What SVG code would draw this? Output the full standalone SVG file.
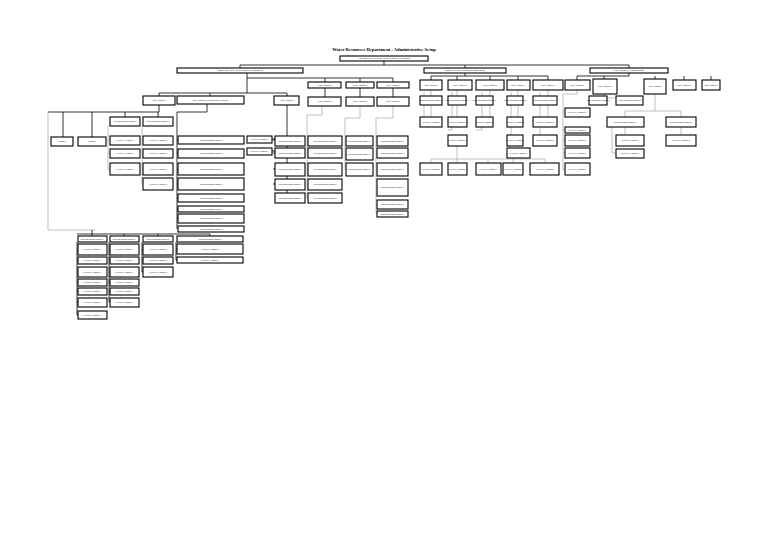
<svg xmlns="http://www.w3.org/2000/svg" width="768" height="543" viewBox="0 0 768 543">
<style>
.b{fill:#fff;stroke:#000;stroke-width:1.1}
.t{font-family:"Liberation Serif",serif;font-size:2.3px;text-anchor:middle;fill:#000}
.c{stroke:#000;stroke-width:0.8;fill:none}
.g{stroke:#999;stroke-width:0.6;fill:none}
</style>
<rect width="768" height="543" fill="#fff"/>
<text x="384" y="51" style="font-family:'Liberation Serif',serif;font-size:4.6px;font-weight:bold;text-anchor:middle">Water Resources Department - Administrative Setup</text>
<g id="connectors">
<path class="c" d="M384 61V65M240 65H629M240 65V68M465 65V68M629 65V68"/>
<path class="c" d="M247 73V93M247 78H393M325 78V82M360 78V82M393 78V82"/>
<path class="c" d="M159 93H287M159 93V96M210 93V96M287 93V96"/>
<path class="c" d="M159 105V112H48M63 112V137M92 112V137M125 112V117M158 112V117"/>
<path class="g" d="M48 112V230H95"/>
<path class="g" d="M108 126V170H110M108 140H110M108 153H110M142 126V184H143M142 140H143M142 153H143M142 169H143"/>
<path class="c" d="M207 104V112H177V229M177 140H178M177 153H178M177 169H178M177 184H178M177 198H178M177 209H178M177 218H178"/>
<path class="c" d="M287 105V198H275M273 140H275M273 153H275M273 169H275M273 184H275M272 139H275M272 151H275"/>
<path class="g" d="M322 106V115H307V198H308M307 141H308M307 153H308M307 169H308M307 184H308"/>
<path class="g" d="M360 106V118H345V170H346M345 141H346M345 154H346"/>
<path class="g" d="M393 106V118H376V213H377M376 141H377M376 153H377M376 169H377M376 187H377M376 205H377"/>
<path class="c" d="M325 88V97M360 88V97M393 88V97"/>
<path class="c" d="M465 73V76H431V80M457 76V80M490 76V80M518 76V80M548 76V80M548 76H465"/>
<path class="c" d="M629 73V76H577V80M604 76V80M655 76V80M684 76V80M711 76V80"/>
<path class="g" d="M431 90V117M424 92V122H420M457 90V96M457 105V117M452 92V130H448M490 90V96M490 105V117M482 92V130H476M518 90V96M518 105V117M511 92V146H507M548 90V96M548 105V117M540 92V146H533"/>
<path class="g" d="M577 90V94H563V170H565M563 112H565M563 130H565M563 140H565M563 153H565"/>
<path class="g" d="M604 94V98H598V96M604 98H630V96"/>
<path class="g" d="M655 90V111H625V117M655 111H681V117M625 127V135M612 122V153H616M681 127V135"/>
<path class="g" d="M457 146V159M431 159H545M431 159V163M457 159V163M488 159V163M513 158V163M545 159V163M518 158V146"/>
<path class="c" d="M77 234H210M92 230V234M92 234V236M124 234V236M158 234V236M210 234V236"/>
<path class="c" d="M77 242V315H78M77 250H78M77 260H78M77 272H78M77 282H78M77 291H78M77 302H78"/>
<path class="c" d="M109 242V302H110M109 250H110M109 260H110M109 272H110M109 282H110M109 291H110"/>
<path class="c" d="M142 242V272H143M142 250H143M142 260H143"/>
<path class="c" d="M176 242V260H177M176 249H177"/>
</g>
<g id="n0"><rect class="b" x="340" y="56" width="88" height="5"/><text class="t" x="384" y="59.3">Additional Chief Secretary, Water Resources Department</text></g>
<g id="n1"><rect class="b" x="177" y="68" width="126" height="5"/><text class="t" x="240" y="71.3">Engineer-in-Chief (Water Resources Department)</text></g>
<g id="n2"><rect class="b" x="424" y="68" width="82" height="5"/><text class="t" x="465" y="71.3">Engineer-in-Chief (Irrigation Management)</text></g>
<g id="n3"><rect class="b" x="590" y="68" width="78" height="5"/><text class="t" x="629" y="71.3">Chief Engineer (Administration)</text></g>
<g id="n4"><rect class="b" x="308" y="82" width="33" height="6"/><text class="t" x="325" y="85.5">Chief Engineer</text></g>
<g id="n5"><rect class="b" x="346" y="82" width="28" height="6"/><text class="t" x="360" y="85.5">Chief Engineer</text></g>
<g id="n6"><rect class="b" x="377" y="82" width="32" height="6"/><text class="t" x="393" y="85.5">Chief Engineer</text></g>
<g id="n7"><rect class="b" x="143" y="96" width="32" height="9"/><text class="t" x="159" y="101">Chief Engineer</text></g>
<g id="n8"><rect class="b" x="177" y="96" width="67" height="8"/><text class="t" x="210" y="100.8">Chief Engineer (Design and Research)</text></g>
<g id="n9"><rect class="b" x="274" y="96" width="25" height="9"/><text class="t" x="287" y="101">Chief Engineer</text></g>
<g id="n10"><rect class="b" x="308" y="97" width="33" height="9"/><text class="t" x="325" y="102">Chief Engineer</text></g>
<g id="n11"><rect class="b" x="346" y="97" width="28" height="9"/><text class="t" x="360" y="102">Chief Engineer</text></g>
<g id="n12"><rect class="b" x="377" y="97" width="32" height="9"/><text class="t" x="393" y="102">Chief Engineer</text></g>
<!-- left cluster -->
<g id="n13"><rect class="b" x="51" y="137" width="22" height="9"/><text class="t" x="62" y="142">Engineer</text></g>
<g id="n14"><rect class="b" x="78" y="137" width="28" height="9"/><text class="t" x="92" y="142">Engineer</text></g>
<g id="n15"><rect class="b" x="110" y="117" width="30" height="9"/><text class="t" x="125" y="122">Superintending Engineer</text></g>
<g id="n16"><rect class="b" x="143" y="117" width="30" height="9"/><text class="t" x="158" y="122">Superintending Engineer</text></g>
<g id="n17"><rect class="b" x="110" y="136" width="30" height="9"/><text class="t" x="125" y="141">Executive Engineer</text></g>
<g id="n18"><rect class="b" x="110" y="149" width="30" height="9"/><text class="t" x="125" y="154">Executive Engineer</text></g>
<g id="n19"><rect class="b" x="110" y="163" width="30" height="12"/><text class="t" x="125" y="170">Executive Engineer</text></g>
<g id="n20"><rect class="b" x="143" y="136" width="30" height="9"/><text class="t" x="158" y="141">Executive Engineer</text></g>
<g id="n21"><rect class="b" x="143" y="149" width="30" height="9"/><text class="t" x="158" y="154">Executive Engineer</text></g>
<g id="n22"><rect class="b" x="143" y="163" width="30" height="12"/><text class="t" x="158" y="170">Executive Engineer</text></g>
<g id="n23"><rect class="b" x="143" y="178" width="30" height="12"/><text class="t" x="158" y="185">Executive Engineer</text></g>
<g id="n24"><rect class="b" x="178" y="136" width="66" height="8"/><text class="t" x="211" y="140.8">Superintending Engineer</text></g>
<g id="n25"><rect class="b" x="178" y="149" width="66" height="9"/><text class="t" x="211" y="154">Superintending Engineer</text></g>
<g id="n26"><rect class="b" x="178" y="163" width="66" height="12"/><text class="t" x="211" y="170">Superintending Engineer</text></g>
<g id="n27"><rect class="b" x="178" y="178" width="66" height="12"/><text class="t" x="211" y="185">Superintending Engineer</text></g>
<g id="n28"><rect class="b" x="178" y="194" width="66" height="8"/><text class="t" x="211" y="198.8">Superintending Engineer</text></g>
<g id="n29"><rect class="b" x="178" y="206" width="66" height="6"/><text class="t" x="211" y="209.8">Superintending Engineer</text></g>
<g id="n30"><rect class="b" x="178" y="214" width="66" height="9"/><text class="t" x="211" y="219">Superintending Engineer</text></g>
<g id="n31"><rect class="b" x="178" y="226" width="66" height="6"/><text class="t" x="211" y="229.8">Superintending Engineer</text></g>
<g id="n32"><rect class="b" x="247" y="136" width="25" height="7"/><text class="t" x="259" y="140.3">Executive Engineer</text></g>
<g id="n33"><rect class="b" x="247" y="148" width="25" height="7"/><text class="t" x="259" y="152.3">Executive Engineer</text></g>
<g id="n34"><rect class="b" x="275" y="136" width="30" height="10"/><text class="t" x="290" y="141.5">Superintending Engineer</text></g>
<g id="n35"><rect class="b" x="275" y="148" width="30" height="10"/><text class="t" x="290" y="153.5">Superintending Engineer</text></g>
<g id="n36"><rect class="b" x="275" y="163" width="30" height="13"/><text class="t" x="290" y="170">Superintending Engineer</text></g>
<g id="n37"><rect class="b" x="275" y="179" width="30" height="11"/><text class="t" x="290" y="185">Superintending Engineer</text></g>
<g id="n38"><rect class="b" x="275" y="193" width="30" height="10"/><text class="t" x="290" y="198.5">Superintending Engineer</text></g>
<g id="n39"><rect class="b" x="308" y="136" width="34" height="10"/><text class="t" x="325" y="141.5">Superintending Engineer</text></g>
<g id="n40"><rect class="b" x="308" y="148" width="34" height="10"/><text class="t" x="325" y="153.5">Superintending Engineer</text></g>
<g id="n41"><rect class="b" x="308" y="163" width="34" height="13"/><text class="t" x="325" y="170">Superintending Engineer</text></g>
<g id="n42"><rect class="b" x="308" y="179" width="34" height="11"/><text class="t" x="325" y="185">Superintending Engineer</text></g>
<g id="n43"><rect class="b" x="308" y="193" width="34" height="10"/><text class="t" x="325" y="198.5">Superintending Engineer</text></g>
<g id="n44"><rect class="b" x="346" y="136" width="27" height="10"/><text class="t" x="359" y="141.5">Superintending Engineer</text></g>
<g id="n45"><rect class="b" x="346" y="148" width="27" height="12"/><text class="t" x="359" y="154.5">Superintending Engineer</text></g>
<g id="n46"><rect class="b" x="346" y="163" width="27" height="13"/><text class="t" x="359" y="170">Superintending Engineer</text></g>
<g id="n47"><rect class="b" x="377" y="136" width="31" height="10"/><text class="t" x="392" y="141.5">Superintending Engineer</text></g>
<g id="n48"><rect class="b" x="377" y="148" width="31" height="10"/><text class="t" x="392" y="153.5">Superintending Engineer</text></g>
<g id="n49"><rect class="b" x="377" y="163" width="31" height="13"/><text class="t" x="392" y="170">Superintending Engineer</text></g>
<g id="n50"><rect class="b" x="377" y="179" width="31" height="17"/><text class="t" x="392" y="188">Superintending Engineer</text></g>
<g id="n51"><rect class="b" x="377" y="200" width="31" height="9"/><text class="t" x="392" y="205">Superintending Engineer</text></g>
<g id="n52"><rect class="b" x="377" y="211" width="31" height="6"/><text class="t" x="392" y="214.8">Superintending Engineer</text></g>
<!-- right side -->
<g id="n53"><rect class="b" x="420" y="80" width="22" height="10"/><text class="t" x="431" y="85.5">Chief Engineer</text></g>
<g id="n54"><rect class="b" x="448" y="80" width="24" height="10"/><text class="t" x="460" y="85.5">Chief Engineer</text></g>
<g id="n55"><rect class="b" x="476" y="80" width="28" height="10"/><text class="t" x="490" y="85.5">Chief Engineer</text></g>
<g id="n56"><rect class="b" x="507" y="80" width="23" height="10"/><text class="t" x="518" y="85.5">Chief Engineer</text></g>
<g id="n57"><rect class="b" x="533" y="80" width="30" height="10"/><text class="t" x="548" y="85.5">Chief Engineer</text></g>
<g id="n58"><rect class="b" x="565" y="80" width="25" height="10"/><text class="t" x="577" y="85.5">Chief Engineer</text></g>
<g id="n59"><rect class="b" x="593" y="79" width="24" height="15"/><text class="t" x="605" y="87">Chief Engineer</text></g>
<g id="n60"><rect class="b" x="644" y="79" width="22" height="15"/><text class="t" x="655" y="87">Chief Engineer</text></g>
<g id="n61"><rect class="b" x="673" y="80" width="23" height="10"/><text class="t" x="684" y="85.5">Chief Engineer</text></g>
<g id="n62"><rect class="b" x="702" y="80" width="18" height="10"/><text class="t" x="711" y="85.5">Chief Engineer</text></g>
<g id="n63"><rect class="b" x="420" y="96" width="22" height="9"/><text class="t" x="431" y="101">Superintending Engineer</text></g>
<g id="n64"><rect class="b" x="448" y="96" width="18" height="9"/><text class="t" x="457" y="101">Superintending Engineer</text></g>
<g id="n65"><rect class="b" x="476" y="96" width="17" height="9"/><text class="t" x="484" y="101">Superintending Engineer</text></g>
<g id="n66"><rect class="b" x="507" y="96" width="16" height="9"/><text class="t" x="515" y="101">Superintending Engineer</text></g>
<g id="n67"><rect class="b" x="533" y="96" width="24" height="9"/><text class="t" x="545" y="101">Superintending Engineer</text></g>
<g id="n68"><rect class="b" x="589" y="96" width="18" height="9"/><text class="t" x="598" y="101">Superintending Engineer</text></g>
<g id="n69"><rect class="b" x="616" y="96" width="27" height="9"/><text class="t" x="630" y="101">Superintending Engineer</text></g>
<g id="n70"><rect class="b" x="420" y="117" width="22" height="10"/><text class="t" x="431" y="122.5">Executive Engineer</text></g>
<g id="n71"><rect class="b" x="448" y="117" width="19" height="10"/><text class="t" x="457" y="122.5">Executive Engineer</text></g>
<g id="n72"><rect class="b" x="476" y="117" width="17" height="10"/><text class="t" x="484" y="122.5">Executive Engineer</text></g>
<g id="n73"><rect class="b" x="507" y="117" width="16" height="10"/><text class="t" x="515" y="122.5">Executive Engineer</text></g>
<g id="n74"><rect class="b" x="533" y="117" width="24" height="10"/><text class="t" x="545" y="122.5">Executive Engineer</text></g>
<g id="n75"><rect class="b" x="565" y="108" width="25" height="9"/><text class="t" x="577" y="113">Executive Engineer</text></g>
<g id="n76"><rect class="b" x="565" y="127" width="25" height="6"/><text class="t" x="577" y="130.8">Executive Engineer</text></g>
<g id="n77"><rect class="b" x="607" y="117" width="37" height="10"/><text class="t" x="625" y="122.5">Superintending Engineer</text></g>
<g id="n78"><rect class="b" x="666" y="117" width="30" height="10"/><text class="t" x="681" y="122.5">Superintending Engineer</text></g>
<g id="n79"><rect class="b" x="448" y="135" width="19" height="11"/><text class="t" x="457" y="141">Executive Engineer</text></g>
<g id="n80"><rect class="b" x="507" y="135" width="16" height="11"/><text class="t" x="515" y="141">Executive Engineer</text></g>
<g id="n81"><rect class="b" x="533" y="135" width="24" height="11"/><text class="t" x="545" y="141">Executive Engineer</text></g>
<g id="n82"><rect class="b" x="565" y="135" width="25" height="11"/><text class="t" x="577" y="141">Executive Engineer</text></g>
<g id="n83"><rect class="b" x="616" y="135" width="28" height="11"/><text class="t" x="630" y="141">Executive Engineer</text></g>
<g id="n84"><rect class="b" x="666" y="135" width="30" height="11"/><text class="t" x="681" y="141">Executive Engineer</text></g>
<g id="n85"><rect class="b" x="507" y="148" width="23" height="10"/><text class="t" x="518" y="153.5">Executive Engineer</text></g>
<g id="n86"><rect class="b" x="565" y="148" width="25" height="10"/><text class="t" x="577" y="153.5">Executive Engineer</text></g>
<g id="n87"><rect class="b" x="616" y="149" width="28" height="9"/><text class="t" x="630" y="154">Executive Engineer</text></g>
<g id="n88"><rect class="b" x="420" y="163" width="22" height="12"/><text class="t" x="431" y="170">Executive Engineer</text></g>
<g id="n89"><rect class="b" x="448" y="163" width="19" height="12"/><text class="t" x="457" y="170">Executive Engineer</text></g>
<g id="n90"><rect class="b" x="476" y="163" width="25" height="12"/><text class="t" x="488" y="170">Executive Engineer</text></g>
<g id="n91"><rect class="b" x="503" y="163" width="20" height="12"/><text class="t" x="513" y="170">Executive Engineer</text></g>
<g id="n92"><rect class="b" x="530" y="163" width="29" height="12"/><text class="t" x="545" y="170">Executive Engineer</text></g>
<g id="n93"><rect class="b" x="565" y="163" width="25" height="12"/><text class="t" x="577" y="170">Executive Engineer</text></g>
<!-- bottom left -->
<g id="n94"><rect class="b" x="78" y="236" width="29" height="6"/><text class="t" x="92" y="239.8">Superintending Engineer</text></g>
<g id="n95"><rect class="b" x="110" y="236" width="29" height="6"/><text class="t" x="124" y="239.8">Superintending Engineer</text></g>
<g id="n96"><rect class="b" x="143" y="236" width="30" height="6"/><text class="t" x="158" y="239.8">Superintending Engineer</text></g>
<g id="n97"><rect class="b" x="177" y="236" width="66" height="6"/><text class="t" x="210" y="239.8">Superintending Engineer</text></g>
<g id="n98"><rect class="b" x="78" y="244" width="29" height="11"/><text class="t" x="92" y="250">Executive Engineer</text></g>
<g id="n99"><rect class="b" x="78" y="257" width="29" height="7"/><text class="t" x="92" y="261.3">Executive Engineer</text></g>
<g id="n100"><rect class="b" x="78" y="267" width="29" height="10"/><text class="t" x="92" y="272.5">Executive Engineer</text></g>
<g id="n101"><rect class="b" x="78" y="279" width="29" height="7"/><text class="t" x="92" y="283.3">Executive Engineer</text></g>
<g id="n102"><rect class="b" x="78" y="288" width="29" height="7"/><text class="t" x="92" y="292.3">Executive Engineer</text></g>
<g id="n103"><rect class="b" x="78" y="298" width="29" height="9"/><text class="t" x="92" y="303">Executive Engineer</text></g>
<g id="n104"><rect class="b" x="78" y="311" width="29" height="8"/><text class="t" x="92" y="315.8">Executive Engineer</text></g>
<g id="n105"><rect class="b" x="110" y="244" width="29" height="11"/><text class="t" x="124" y="250">Executive Engineer</text></g>
<g id="n106"><rect class="b" x="110" y="257" width="29" height="7"/><text class="t" x="124" y="261.3">Executive Engineer</text></g>
<g id="n107"><rect class="b" x="110" y="267" width="29" height="10"/><text class="t" x="124" y="272.5">Executive Engineer</text></g>
<g id="n108"><rect class="b" x="110" y="279" width="29" height="7"/><text class="t" x="124" y="283.3">Executive Engineer</text></g>
<g id="n109"><rect class="b" x="110" y="288" width="29" height="7"/><text class="t" x="124" y="292.3">Executive Engineer</text></g>
<g id="n110"><rect class="b" x="110" y="298" width="29" height="9"/><text class="t" x="124" y="303">Executive Engineer</text></g>
<g id="n111"><rect class="b" x="143" y="244" width="30" height="11"/><text class="t" x="158" y="250">Executive Engineer</text></g>
<g id="n112"><rect class="b" x="143" y="257" width="30" height="7"/><text class="t" x="158" y="261.3">Executive Engineer</text></g>
<g id="n113"><rect class="b" x="143" y="267" width="30" height="10"/><text class="t" x="158" y="272.5">Executive Engineer</text></g>
<g id="n114"><rect class="b" x="177" y="244" width="66" height="10"/><text class="t" x="210" y="249.5">Executive Engineer</text></g>
<g id="n115"><rect class="b" x="177" y="257" width="66" height="6"/><text class="t" x="210" y="260.8">Executive Engineer</text></g>
</svg>
